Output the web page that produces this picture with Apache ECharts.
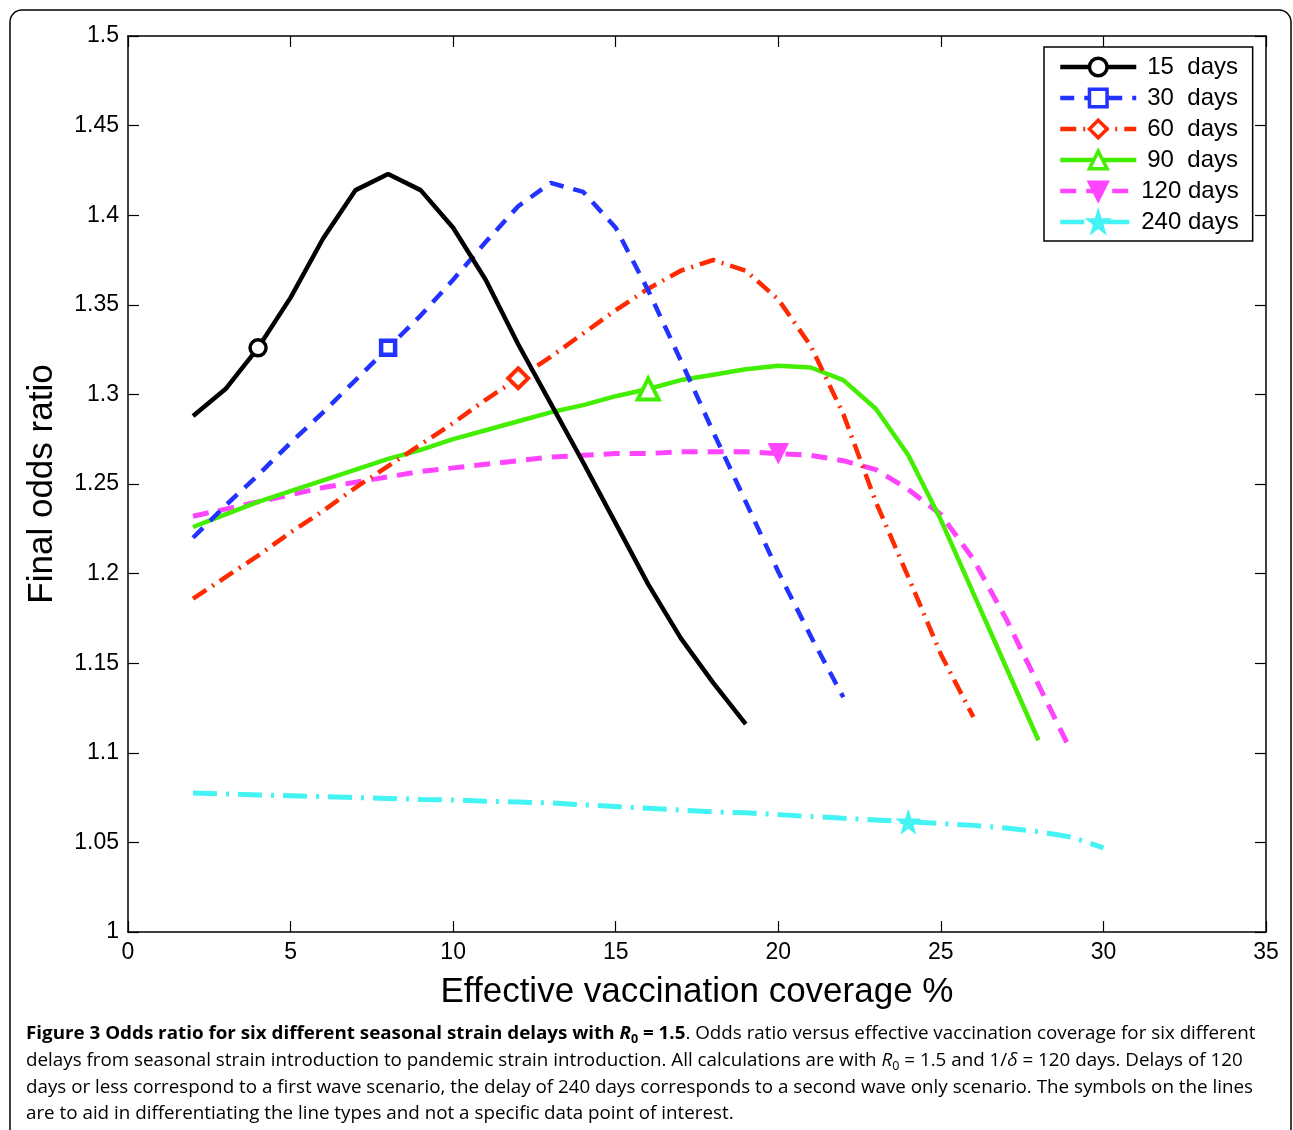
<!DOCTYPE html>
<html><head><meta charset="utf-8">
<script src="https://cdn.jsdelivr.net/npm/echarts@6/dist/echarts.min.js"></script>
<style>html,body{margin:0;padding:0;background:#fff}#c{width:1293px;height:1130px}</style>
</head><body><div id="c"></div>
<script>
// ---- data ----
const x15 = [2,3,4,5,6,7,8,9,10,11,12,13,14,15,16,17,18,19];
const y15 = [1.288,1.303,1.326,1.354,1.387,1.414,1.423,1.414,1.393,1.364,1.328,1.295,1.262,1.228,1.194,1.164,1.139,1.116];
const x30 = [2,3,4,5,6,7,8,9,10,11,12,13,14,15,16,17,18,19,20,21,22];
const y30 = [1.220,1.238,1.255,1.273,1.290,1.308,1.326,1.344,1.364,1.385,1.405,1.418,1.413,1.393,1.358,1.319,1.279,1.240,1.201,1.165,1.131];
const x60 = [2,3,4,5,6,7,8,9,10,11,12,13,14,15,16,17,18,19,20,21,22,23,24,25,26];
const y60 = [1.186,1.198,1.210,1.223,1.235,1.248,1.260,1.272,1.284,1.297,1.309,1.321,1.334,1.347,1.359,1.369,1.375,1.369,1.353,1.327,1.289,1.240,1.198,1.155,1.120];
const x90 = [2,3,4,5,6,7,8,9,10,11,12,13,14,15,16,17,18,19,20,21,22,23,24,25,26,27,28];
const y90 = [1.226,1.233,1.240,1.246,1.252,1.258,1.264,1.269,1.275,1.280,1.285,1.290,1.294,1.299,1.303,1.308,1.311,1.314,1.316,1.315,1.308,1.292,1.266,1.230,1.189,1.148,1.107];
const x120 = [2,3,4,5,6,7,8,9,10,11,12,13,14,15,16,17,18,19,20,21,22,23,24,25,26,27,28,29];
const y120 = [1.232,1.236,1.240,1.244,1.248,1.251,1.254,1.257,1.259,1.261,1.263,1.265,1.266,1.267,1.267,1.268,1.268,1.268,1.267,1.266,1.263,1.258,1.247,1.233,1.208,1.175,1.138,1.101];
const x240 = [2,3,4,5,6,7,8,9,10,11,12,13,14,15,16,17,18,19,20,21,22,23,24,25,26,27,28,29,30];
const y240 = [1.0775,1.077,1.0765,1.076,1.0755,1.075,1.0745,1.074,1.0737,1.073,1.0725,1.072,1.071,1.070,1.069,1.068,1.067,1.0665,1.0655,1.0645,1.0635,1.0625,1.0615,1.0605,1.0595,1.058,1.056,1.053,1.047];
const seriesNames = ['15  days','30  days','60  days','90  days','120 days','240 days'];
const markerX = [4, 8, 12, 16, 20, 24];
const xTicks = [0,5,10,15,20,25,30,35];
const yTicks = [1,1.05,1.1,1.15,1.2,1.25,1.3,1.35,1.4,1.45,1.5];

const xs = [x15,x30,x60,x90,x120,x240];
const ys = [y15,y30,y60,y90,y120,y240];

const STAR = 'path://M50,0 L61,35 L98,35 L68,57 L79,91 L50,70 L21,91 L32,57 L2,35 L39,35 Z';
const DTRI = 'path://M0,0 L100,0 L50,90 Z';
const styles = [
  {color:'#000000', type:'solid', width:4.5, symbol:'circle', size:16, fill:'#ffffff', bw:3.5},
  {color:'#2233ff', type:[14,10], width:4.5, symbol:'rect', size:14, fill:'#ffffff', bw:4.5},
  {color:'#ff2a00', type:[16,7,2,7], width:4.5, symbol:'diamond', size:20, fill:'#ffffff', bw:4},
  {color:'#44ee00', type:'solid', width:4.5, symbol:'triangle', size:21, fill:'#ffffff', bw:4},
  {color:'#ff44ff', type:[16,10], width:5, symbol:DTRI, size:20, fill:'#ff44ff', bw:1},
  {color:'#44f4f4', type:[24,9,3,9], width:5, symbol:STAR, size:24, fill:'#44f4f4', bw:1}
];

const series = seriesNames.map((nm, i) => {
  const st = styles[i];
  const mk = xs[i].indexOf(markerX[i]);
  return {
    name: nm, type: 'line',
    data: xs[i].map((x, j) => [x, ys[i][j]]),
    symbol: st.symbol,
    symbolSize: (v, p) => p.dataIndex === mk ? st.size : 0,
    showSymbol: true, showAllSymbol: true,
    lineStyle: {color: st.color, type: st.type, width: st.width, cap: 'butt'},
    itemStyle: {color: st.fill, borderColor: st.color, borderWidth: st.bw},
    emphasis: {disabled: true},
    z: 10 - i
  };
});

const chart = echarts.init(document.getElementById('c'), null, {renderer: 'canvas'});

const lbl = {color:'#000', fontFamily:'Liberation Sans', fontSize:23};
const axLine = {show:true, onZero:false, lineStyle:{color:'#000', width:1.5}};
const tick = {show:true, inside:true, length:11, lineStyle:{color:'#000', width:1.2}};

// caption helpers
const FONT = '"Open Sans"';
const mctx = document.createElement('canvas').getContext('2d');
function mw(font, t){ mctx.font = font; return mctx.measureText(t).width; }
const line3 = 'days or less correspond to a first wave scenario, the delay of 240 days corresponds to a second wave only scenario. The symbols on the lines';
const capScale = 1227 / mw('18px ' + FONT, line3);
const richCap = {
  b: {fontFamily:FONT, fontSize:18, fontWeight:'bold', color:'#000', lineHeight:26},
  bi: {fontFamily:FONT, fontSize:18, fontWeight:'bold', fontStyle:'italic', color:'#000', lineHeight:26},
  bs: {fontFamily:FONT, fontSize:12, fontWeight:'bold', color:'#000', lineHeight:26, padding:[12,0,0,0]},
  n: {fontFamily:FONT, fontSize:18, color:'#3a3a3a', lineHeight:26},
  i: {fontFamily:FONT, fontSize:18, fontStyle:'italic', color:'#3a3a3a', lineHeight:26},
  s: {fontFamily:FONT, fontSize:12, color:'#3a3a3a', lineHeight:26, padding:[12,0,0,0]}
};
const capLines = [
  '{b|Figure 3 Odds ratio for six different seasonal strain delays with }{bi|R}{bs|0}{b| = 1.5}{n|. Odds ratio versus effective vaccination coverage for six different}',
  '{n|delays from seasonal strain introduction to pandemic strain introduction. All calculations are with }{i|R}{s|0}{n| = 1.5 and 1/}{i|δ}{n| = 120 days. Delays of 120}',
  '{n|' + line3 + '}',
  '{n|are to aid in differentiating the line types and not a specific data point of interest.}'
];
const capY = [1034, 1061, 1088, 1114];
const graphics = [
  {type:'rect', shape:{x:10, y:10, width:1281, height:1160, r:12}, style:{fill:'none', stroke:'#000', lineWidth:1.5}, z:-10, silent:true}
];
capLines.forEach((t, k) => {
  graphics.push({type:'text', x:26, y:capY[k], scaleX:capScale, scaleY:1, silent:true,
    style:{text:t, rich:richCap, verticalAlign:'middle', align:'left'}});
});

chart.setOption({
  animation: false,
  backgroundColor: '#ffffff',
  grid: {left:128, top:36, right:27, bottom:198, containLabel:false},
  xAxis: [
    {type:'value', min:0, max:35, interval:5, position:'bottom',
     name:'Effective vaccination coverage %', nameLocation:'middle', nameGap:43,
     nameTextStyle:{color:'#000', fontFamily:'Liberation Sans', fontSize:35},
     axisLine:axLine, axisTick:tick, splitLine:{show:false},
     axisLabel:Object.assign({margin:9, formatter: v => String(v)}, lbl)},
    {type:'value', min:0, max:35, interval:5, position:'top',
     axisLine:axLine, axisTick:tick, splitLine:{show:false}, axisLabel:{show:false}}
  ],
  yAxis: [
    {type:'value', min:1, max:1.5, interval:0.05, position:'left',
     name:'Final odds ratio', nameLocation:'middle', nameGap:68,
     nameTextStyle:{color:'#000', fontFamily:'Liberation Sans', fontSize:35},
     axisLine:axLine, axisTick:tick, splitLine:{show:false},
     axisLabel:Object.assign({margin:9, formatter: v => String(+(+v).toFixed(2))}, lbl)},
    {type:'value', min:1, max:1.5, interval:0.05, position:'right',
     axisLine:axLine, axisTick:tick, splitLine:{show:false}, axisLabel:{show:false}}
  ],
  legend: {
    show:true, orient:'vertical', left:1044, top:47,
    data: seriesNames,
    itemWidth:76, itemHeight:22, itemGap:7,
    padding:[8,14,7,14],
    backgroundColor:'#fff', borderColor:'#000', borderWidth:1.5, borderRadius:0,
    selectedMode:false,
    lineStyle:{width:4.5},
    itemStyle:{borderWidth:3.5},
    formatter: name => (name.indexOf('  ') > 0 ? '{p|}' : '') + '{t|' + name + '}',
    textStyle:{color:'#000', fontFamily:'Liberation Sans', fontSize:24, lineHeight:24,
      rich:{p:{width:6}, t:{color:'#000', fontFamily:'Liberation Sans', fontSize:24, lineHeight:24}}}
  },
  graphic: graphics,
  series: series
});
</script></body></html>
